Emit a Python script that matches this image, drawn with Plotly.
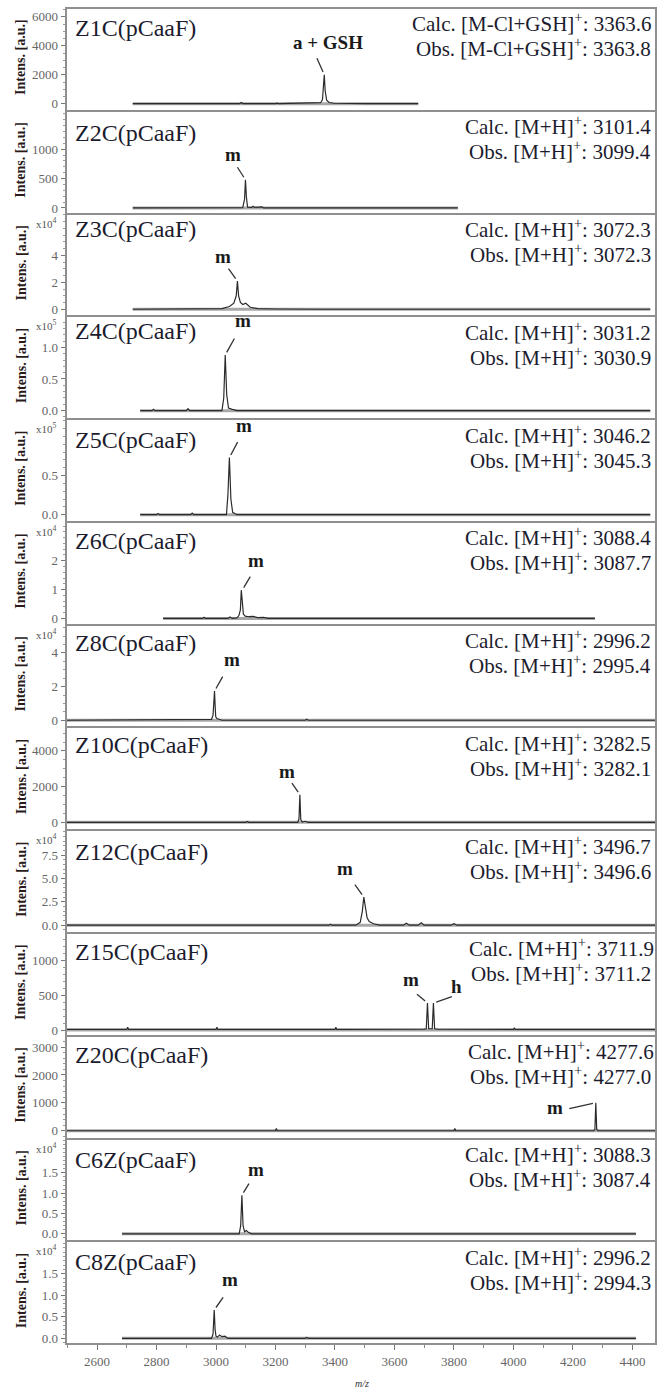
import plotly.graph_objects as go

W, H = 657, 1395

# ---------------- data ----------------
panel_names = ["Z1C(pCaaF)", "Z2C(pCaaF)", "Z3C(pCaaF)", "Z4C(pCaaF)", "Z5C(pCaaF)",
               "Z6C(pCaaF)", "Z8C(pCaaF)", "Z10C(pCaaF)", "Z12C(pCaaF)", "Z15C(pCaaF)",
               "Z20C(pCaaF)", "C6Z(pCaaF)", "C8Z(pCaaF)"]
ion_labels = ["[M-Cl+GSH]"] + ["[M+H]"] * 12
calc_mass = ["3363.6", "3101.4", "3072.3", "3031.2", "3046.2", "3088.4", "2996.2",
             "3282.5", "3496.7", "3711.9", "4277.6", "3088.3", "2996.2"]
obs_mass = ["3363.8", "3099.4", "3072.3", "3030.9", "3045.3", "3087.7", "2995.4",
            "3282.1", "3496.6", "3711.2", "4277.0", "3087.4", "2994.3"]
scale_exp = [None, None, 4, 5, 5, 4, 4, None, 4, None, None, 4, 4]

# baseline extent (m/z) of each acquired spectrum
base_start = [2720, 2720, 2720, 2745, 2745, 2822, 2498, 2498, 2498, 2498, 2498, 2684, 2684]
base_end = [3680, 3813, 4460, 4460, 4460, 4274, 4476, 4476, 4476, 4476, 4476, 4412, 4412]

# spectra (intensity in axis units: raw counts or x10^n)
z1c_mz = [2720, 2800, 2805, 2810, 2900, 2905, 2910, 3000, 3005, 3010, 3080, 3085, 3090, 3200, 3205, 3210,
          3340, 3352, 3358, 3361, 3364, 3367, 3372, 3380, 3395, 3500, 3680]
z1c_int = [20, 20, 60, 20, 20, 50, 20, 20, 40, 20, 20, 90, 20, 20, 50, 20,
           30, 80, 300, 1100, 2000, 900, 250, 90, 40, 20, 20]
z2c_mz = [2720, 3090, 3096, 3099, 3102, 3106, 3120, 3125, 3130, 3150, 3155, 3160, 3813]
z2c_int = [0, 5, 150, 480, 200, 15, 10, 30, 10, 10, 20, 0, 0]
z3c_mz = [2720, 2980, 3020, 3045, 3060, 3068, 3072, 3076, 3082, 3090, 3100, 3115, 3140, 3200, 3300, 3320, 3340, 4460]
z3c_int = [0, 0, 0.05, 0.2, 0.45, 1.0, 2.09, 1.0, 0.5, 0.35, 0.45, 0.15, 0.05, 0.02, 0.03, 0.02, 0, 0]
z4c_mz = [2745, 2785, 2790, 2795, 2900, 2906, 2912, 3020, 3026, 3031, 3036, 3042, 3055, 3070, 4460]
z4c_int = [0, 0, 0.02, 0, 0, 0.03, 0, 0, 0.2, 0.88, 0.25, 0.04, 0.02, 0, 0]
z5c_mz = [2745, 2800, 2805, 2810, 2915, 2920, 2925, 3035, 3040, 3045, 3050, 3056, 3070, 4460]
z5c_int = [0, 0, 0.015, 0, 0, 0.02, 0, 0, 0.25, 0.73, 0.2, 0.03, 0, 0]
z6c_mz = [2822, 2955, 2960, 2965, 3040, 3047, 3055, 3070, 3077, 3082, 3085, 3088, 3092, 3098, 3110, 3125,
          3140, 3160, 3175, 4274]
z6c_int = [0, 0, 0.04, 0, 0, 0.05, 0, 0.02, 0.1, 0.3, 0.98, 0.5, 0.15, 0.08, 0.06, 0.07, 0.03, 0.04, 0, 0]
z8c_mz = [2498, 2985, 2990, 2993, 2995, 2997, 2999, 3003, 3010, 3020, 3300, 3305, 3310, 4476]
z8c_int = [0, 0.05, 0.3, 1.2, 1.73, 0.9, 0.2, 0.1, 0.05, 0, 0, 0.06, 0, 0]
z10c_mz = [2498, 2900, 2905, 2910, 3100, 3105, 3110, 3275, 3279, 3282, 3285, 3290, 3300, 3310,
           3500, 3505, 3510, 3900, 3905, 3910, 4476]
z10c_int = [0, 0, 40, 0, 0, 50, 0, 0, 200, 1550, 150, 20, 60, 0, 0, 40, 0, 0, 30, 0, 0]
z12c_mz = [2498, 3380, 3385, 3390, 3470, 3485, 3492, 3497, 3502, 3508, 3515, 3530, 3550, 3630, 3640,
           3650, 3680, 3690, 3700, 3790, 3800, 3810, 4476]
z12c_int = [0, 0, 0.1, 0, 0, 0.3, 1.5, 3.0, 2.0, 0.8, 0.4, 0.15, 0, 0, 0.2, 0, 0, 0.25, 0, 0, 0.15, 0, 0]
z15c_mz = [2498, 2700, 2703, 2706, 3000, 3003, 3006, 3400, 3403, 3406, 3700, 3707, 3711, 3715, 3722,
           3727, 3731, 3735, 3745, 4000, 4003, 4006, 4476]
z15c_int = [10, 10, 40, 10, 10, 40, 10, 10, 40, 10, 15, 20, 390, 20, 20, 20, 390, 20, 15, 10, 35, 10, 10]
z20c_mz = [2498, 3200, 3203, 3206, 3800, 3803, 3806, 4270, 4274, 4277, 4280, 4285, 4476]
z20c_int = [0, 0, 80, 0, 0, 80, 0, 0, 50, 1000, 50, 0, 0]
c6z_mz = [2684, 3078, 3083, 3087, 3091, 3096, 3102, 3110, 3120, 4412]
c6z_int = [0, 0, 0.2, 0.95, 0.2, 0.05, 0.08, 0.03, 0, 0]
c8z_mz = [2684, 2985, 2990, 2994, 2997, 3000, 3005, 3012, 3020, 3030, 3040, 3300, 3305, 3310, 4412]
c8z_int = [0, 0, 0.1, 0.66, 0.2, 0.05, 0.03, 0.08, 0.04, 0.05, 0, 0, 0.02, 0, 0]

spectra_mz = [z1c_mz, z2c_mz, z3c_mz, z4c_mz, z5c_mz, z6c_mz, z8c_mz, z10c_mz, z12c_mz, z15c_mz,
              z20c_mz, c6z_mz, c8z_mz]
spectra_int = [z1c_int, z2c_int, z3c_int, z4c_int, z5c_int, z6c_int, z8c_int, z10c_int, z12c_int,
               z15c_int, z20c_int, c6z_int, c8z_int]

# peak labels
peak_panel = [0, 1, 2, 3, 4, 5, 6, 7, 8, 9, 9, 10, 11, 12]
peak_text = ["a + GSH", "m", "m", "m", "m", "m", "m", "m", "m", "m", "h", "m", "m", "m"]
peak_mz = [3364, 3099, 3072, 3031, 3045, 3088, 2995, 3282, 3497, 3711, 3731, 4277, 3087, 2994]
peak_int = [2000, 480, 2.09, 0.88, 0.73, 0.98, 1.73, 1550, 3.0, 390, 390, 1000, 0.95, 0.66]

# y tick labels
y_ticks = [[0, 2000, 4000, 6000], [0, 500, 1000], [0, 2, 4], [0, 0.5, 1.0], [0, 0.5], [0, 1, 2],
           [0, 2, 4], [0, 2000, 4000], [0, 2.5, 5.0, 7.5], [0, 500, 1000], [0, 1000, 2000, 3000],
           [0, 0.5, 1.0, 1.5], [0, 0.5, 1.0, 1.5]]
x_ticks = [2600, 2800, 3000, 3200, 3400, 3600, 3800, 4000, 4200, 4400]

# ---------------- layout / styling ----------------
y_ranges = [[-409, 6545], [-78, 1638], [-0.45, 7.03], [-0.118, 1.475], [-0.079, 1.21], [-0.18, 3.31],
            [-0.366, 5.62], [-384, 5260], [-0.73, 10.06], [-67, 1383], [-243, 3368], [-0.16, 2.32],
            [-0.11, 2.23]]
y_minor = [500, 100, 0.5, 0.1, 0.1, 0.2, 0.5, 500, 0.5, 100, 200, 0.1, 0.1]
y_fmt = ["d", "d", "d", ".1f", ".1f", "d", "d", "d", ".1f", "d", "d", ".1f", ".1f"]
x_range = [2498, 4476]

# label offsets in px relative to peak top: (text dx, text dy, line tail ax, ay)
lab_off = [(4, 32, -8, -18), (-12, 25, -9, -14), (-14, 25, -10, -14), (18, 34, 10, -18),
           (15, 32, 9, -17), (14, 30, 9, -15), (17, 32, 9, -16), (-13, 23, -9, -13),
           (-19, 29, -10, -14), (-16, 24, -12, -10), (23, 17, 20, -7), (-41, -5, -28, 6),
           (14, 26, 8, -13), (16, 30, 10, -14)]
name_dy = [20, 22, 15, 15, 21, 19, 18, 18, 22, 19, 19, 21, 21]

TOP, PH, N = 8, 103, 13
XL, XR = 66.7, 655
SERIF = "Liberation Serif, Times New Roman, serif"
FRAME = "#8f8f8f"
TXT = "#1c1c2e"


def py(px):
    return 1 - px / H


fig = go.Figure()
layout = dict(width=W, height=H, margin=dict(l=0, r=0, t=0, b=0),
              paper_bgcolor="white", plot_bgcolor="white", showlegend=False)
annotations = []

for i in range(N):
    n = "" if i == 0 else str(i + 1)
    xa, ya = "x" + n, "y" + n
    top = TOP + i * PH
    bot = top + PH
    is_bottom = i == N - 1

    fig.add_trace(go.Scatter(x=[base_start[i], base_end[i]], y=[0, 0], mode="lines",
                             line=dict(color="#a8a8a8", width=3), xaxis=xa, yaxis=ya,
                             hoverinfo="skip"))
    fig.add_trace(go.Scatter(x=spectra_mz[i], y=spectra_int[i], mode="lines",
                             line=dict(color="#2b2b2b", width=1.2), xaxis=xa, yaxis=ya))

    lo, hi = y_ranges[i]
    step = y_minor[i]
    k0 = int(lo // step) + 1
    minor_vals = [round(k * step, 6) for k in range(k0, int(hi // step) + 1)]
    x_minor = list(range(2500, 4500, 100))

    layout["xaxis" + n] = dict(
        domain=[XL / W, XR / W], anchor=ya, range=x_range, showgrid=False, zeroline=False,
        showline=True, mirror=True, linecolor=FRAME, linewidth=2,
        tickmode="array", tickvals=x_ticks if is_bottom else [],
        showticklabels=is_bottom, ticks="outside" if is_bottom else "",
        ticklen=5, tickwidth=1, tickcolor="#777",
        tickfont=dict(family=SERIF, size=13, color="#666"),
        minor=dict(tickmode="array", tickvals=x_minor if is_bottom else [], ticks="outside" if is_bottom else "",
                   ticklen=3, tickcolor="#888", showgrid=False),
    )
    layout["yaxis" + n] = dict(
        domain=[py(bot - 1), py(top + 1)], anchor=xa, range=y_ranges[i], showgrid=False,
        zeroline=False, showline=True, mirror=True, linecolor=FRAME, linewidth=2,
        tickmode="array", tickvals=y_ticks[i], tickformat=y_fmt[i], ticks="outside",
        ticklen=4, tickwidth=1, tickcolor="#777",
        tickfont=dict(family=SERIF, size=13, color="#666"),
        minor=dict(tickmode="array", tickvals=minor_vals, ticks="outside", ticklen=2,
                   tickcolor="#999", showgrid=False),
    )

    # panel name
    annotations.append(dict(xref="paper", yref="paper", x=73 / W, y=py(top + name_dy[i]),
                            xanchor="left", yanchor="middle", showarrow=False,
                            text=panel_names[i], font=dict(family=SERIF, size=24, color=TXT)))
    # calc / obs text
    rx = 656 if i in (9, 10) else 653
    annotations.append(dict(xref="paper", yref="paper", x=rx / W, y=py(top + 15),
                            xanchor="right", yanchor="middle", showarrow=False,
                            text=f"Calc. {ion_labels[i]}<sup>+</sup>: {calc_mass[i]}",
                            font=dict(family=SERIF, size=21, color=TXT)))
    annotations.append(dict(xref="paper", yref="paper", x=653 / W, y=py(top + 40),
                            xanchor="right", yanchor="middle", showarrow=False,
                            text=f"Obs. {ion_labels[i]}<sup>+</sup>: {obs_mass[i]}",
                            font=dict(family=SERIF, size=21, color=TXT)))
    # y title
    annotations.append(dict(xref="paper", yref="paper", x=21 / W, y=py(top + 50),
                            xanchor="center", yanchor="middle", showarrow=False, textangle=-90,
                            text="Intens. [a.u.]",
                            font=dict(family=SERIF, size=14, color="#2a1a1a", weight="bold")))
    if scale_exp[i] is not None:
        annotations.append(dict(xref="paper", yref="paper", x=46 / W, y=py(top + 9),
                                xanchor="center", yanchor="middle", showarrow=False,
                                text=f"x10<sup>{scale_exp[i]}</sup>",
                                font=dict(family=SERIF, size=11, color="#555")))

# peak labels and leader lines
for j in range(len(peak_text)):
    i = peak_panel[j]
    n = "" if i == 0 else str(i + 1)
    dx, dy, ax, ay = lab_off[j]
    annotations.append(dict(xref="x" + n, yref="y" + n, x=peak_mz[j], y=peak_int[j],
                            xshift=dx, yshift=dy, showarrow=False, text=f"<b>{peak_text[j]}</b>",
                            font=dict(family=SERIF, size=19, color="#1a1a1a")))
    annotations.append(dict(xref="x" + n, yref="y" + n, x=peak_mz[j], y=peak_int[j],
                            ax=ax, ay=ay, axref="pixel", ayref="pixel", text="", showarrow=True,
                            arrowhead=0, arrowwidth=1.3, arrowcolor="#333", standoff=3))

# x title
annotations.append(dict(xref="paper", yref="paper", x=362 / W, y=py(1386), xanchor="center",
                        yanchor="middle", showarrow=False, text="<i>m/z</i>",
                        font=dict(family=SERIF, size=10, color="#333")))

layout["annotations"] = annotations
fig.update_layout(**layout)
fig.write_html("out.html")
